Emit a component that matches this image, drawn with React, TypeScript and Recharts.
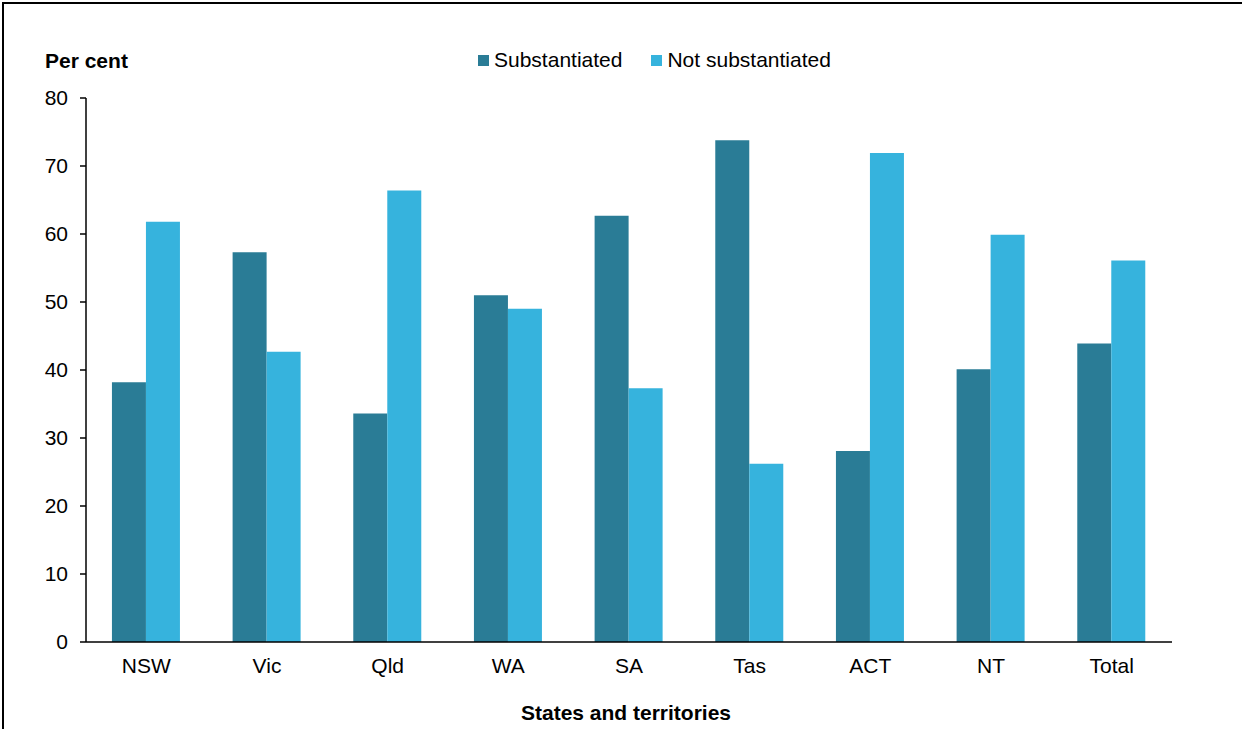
import React from 'react';
import { BarChart, Bar, XAxis, YAxis } from 'recharts';

const states = ['NSW', 'Vic', 'Qld', 'WA', 'SA', 'Tas', 'ACT', 'NT', 'Total'];
const substantiated = [38.2, 57.3, 33.6, 51.0, 62.7, 73.8, 28.1, 40.1, 43.9];
const notSubstantiated = [61.8, 42.7, 66.4, 49.0, 37.3, 26.2, 71.9, 59.9, 56.1];
const yTicks = [0, 10, 20, 30, 40, 50, 60, 70, 80];

const DARK = '#2a7c96';
const LIGHT = '#36b3dd';
const FONT = '"Liberation Sans", Arial, sans-serif';

const data = states.map((s, i) => ({
    state: s,
    sub: substantiated[i],
    notSub: notSubstantiated[i],
}));

// legend sits a little right of the plot centre, as in the source
const LegendBox = () => (
    <div style={{ position: 'absolute', left: 478, top: 48, display: 'flex', alignItems: 'center', fontFamily: FONT, fontSize: 21, lineHeight: '24px', color: '#000' }}>
        <div style={{ width: 11, height: 11, background: DARK, marginRight: 5 }} />
        <span style={{ marginRight: 29 }}>Substantiated</span>
        <div style={{ width: 11, height: 11, background: LIGHT, marginRight: 5 }} />
        <span>Not substantiated</span>
    </div>
);

export default function App() {
    return (
        <div style={{ position: 'absolute', left: 0, top: 0, width: 1242, height: 729, overflow: 'hidden', background: '#fff' }}>
            {/* frame, only top and left edges are visible */}
            <div style={{ position: 'absolute', left: 2, top: 2, width: 1300, height: 800, borderTop: '2px solid #000', borderLeft: '2px solid #000' }} />
            <div style={{ position: 'absolute', left: 45, top: 48, fontFamily: FONT, fontSize: 21, fontWeight: 'bold', lineHeight: '26px' }}>
                Per cent
            </div>
            <div style={{ position: 'absolute', left: 0, width: 1252, top: 700, textAlign: 'center', fontFamily: FONT, fontSize: 21, fontWeight: 'bold', lineHeight: '26px' }}>
                States and territories
            </div>
            <LegendBox />
            <BarChart
                width={1242}
                height={729}
                data={data}
                margin={{ top: 98, right: 70, left: 0, bottom: 0 }}
                barCategoryGap="21.5%"
                barGap={0}
                style={{ position: 'absolute', left: 0, top: 0 }}
            >
                <YAxis
                    width={86}
                    domain={[0, 80]}
                    ticks={yTicks}
                    interval={0}
                    tickSize={6}
                    tickMargin={12}
                    stroke="#000"
                    strokeWidth={1.5}
                    tick={{ fill: '#000', fontSize: 21, fontFamily: FONT }}
                />
                <XAxis
                    dataKey="state"
                    height={87}
                    tickLine={false}
                    tickSize={0}
                    tickMargin={16}
                    stroke="#000"
                    strokeWidth={1.5}
                    tick={{ fill: '#000', fontSize: 21, fontFamily: FONT }}
                />
                <Bar dataKey="sub" name="Substantiated" fill={DARK} isAnimationActive={false} />
                <Bar dataKey="notSub" name="Not substantiated" fill={LIGHT} isAnimationActive={false} />
            </BarChart>
        </div>
    );
}
